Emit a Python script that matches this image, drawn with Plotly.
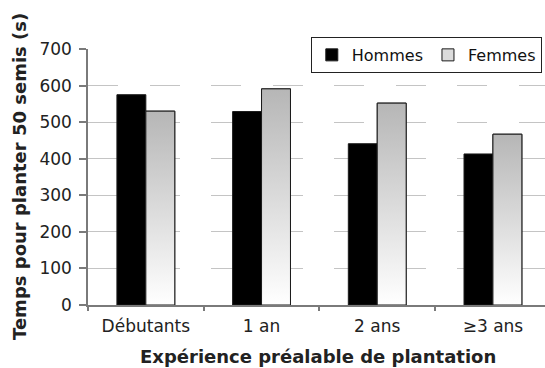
import plotly.graph_objects as go

# Temps moyen pour planter 50 semis selon l'expérience préalable
categories = ["Débutants", "1 an", "2 ans", "≥3 ans"]
hommes = [575, 529, 441, 413]
femmes = [530, 591, 552, 467]

y_ticks = [0, 100, 200, 300, 400, 500, 600, 700]

FONT = "DejaVu Sans"
BAR_W = 0.25
positions = list(range(len(categories)))

fig = go.Figure()

# Hommes: solid black bars, left half of each group
fig.add_trace(go.Bar(
    x=[p - BAR_W / 2 for p in positions], y=hommes, width=BAR_W,
    name="Hommes",
    marker=dict(color="#000000", line=dict(color="#1a1a1a", width=1)),
))

# Femmes: base bars (carry the legend entry), right half of each group
fig.add_trace(go.Bar(
    x=[p + BAR_W / 2 for p in positions], y=femmes, width=BAR_W,
    name="Femmes",
    marker=dict(color="#dcdcdc", line=dict(color="#1a1a1a", width=1)),
))

# Vertical gray-to-white gradient painted over each Femmes bar
for p, v in zip(positions, femmes):
    x0, x1 = p, p + BAR_W
    fig.add_trace(go.Scatter(
        x=[x0, x0, x1, x1, x0], y=[0, v, v, 0, 0],
        mode="lines", fill="toself",
        fillgradient=dict(type="vertical", start=0, stop=v,
                          colorscale=[[0, "#ffffff"], [1, "#b6b6b6"]]),
        line=dict(color="#1a1a1a", width=1),
        showlegend=False, hoverinfo="skip",
    ))

x_range = [-0.5, 3.45]

fig.update_layout(
    width=545, height=368,
    margin=dict(l=88, r=0, t=49, b=63),
    paper_bgcolor="white", plot_bgcolor="white",
    barmode="overlay",
    font=dict(family=FONT, size=17, color="#222222"),
    showlegend=True,
    legend=dict(
        orientation="h", x=0.993, xanchor="right", y=1.047, yanchor="top",
        bgcolor="white", bordercolor="#222222", borderwidth=1,
        font=dict(family=FONT, size=16, color="#111111"),
    ),
    xaxis=dict(
        range=x_range, tickvals=positions, ticktext=categories,
        ticks="outside", ticklen=5, tickcolor="rgba(0,0,0,0)",
        showgrid=False, zeroline=False,
        showline=True, linecolor="#7a7a7a", linewidth=1.5,
        tickfont=dict(family=FONT, size=17, color="#222222"),
    ),
    xaxis2=dict(
        overlaying="x", matches="x", range=x_range,
        tickvals=[p - 0.5 for p in positions] + [3.5],
        ticks="outside", ticklen=5, tickcolor="#7a7a7a", tickwidth=1.5,
        showticklabels=False, showgrid=False, zeroline=False, showline=False,
        side="bottom",
    ),
    yaxis=dict(
        range=[0, 700], tickvals=y_ticks,
        ticks="outside", ticklen=7, tickcolor="#7a7a7a", tickwidth=1.5,
        ticklabelstandoff=4,
        showgrid=True, gridcolor="#c4c4c4", gridwidth=1, griddash="30px,31.5px",
        zeroline=False,
        showline=True, linecolor="#7a7a7a", linewidth=1.5,
        tickfont=dict(family=FONT, size=17, color="#222222"),
    ),
    annotations=[
        dict(text="<b>Temps pour planter 50 semis (s)</b>",
             xref="paper", yref="paper", x=-0.1488, y=0.504,
             xanchor="center", yanchor="middle", textangle=-90, showarrow=False,
             font=dict(family=FONT, size=18, color="#222222")),
        dict(text="<b>Expérience préalable de plantation</b>",
             xref="paper", yref="paper", x=0.503, y=-0.2,
             xanchor="center", yanchor="middle", showarrow=False,
             font=dict(family=FONT, size=18, color="#222222")),
    ],
)

# Invisible helper trace so the boundary-tick axis is rendered
fig.add_trace(go.Scatter(x=[0], y=[0], xaxis="x2", mode="markers",
                         marker=dict(opacity=0), showlegend=False, hoverinfo="skip"))

fig.write_html("out.html")
